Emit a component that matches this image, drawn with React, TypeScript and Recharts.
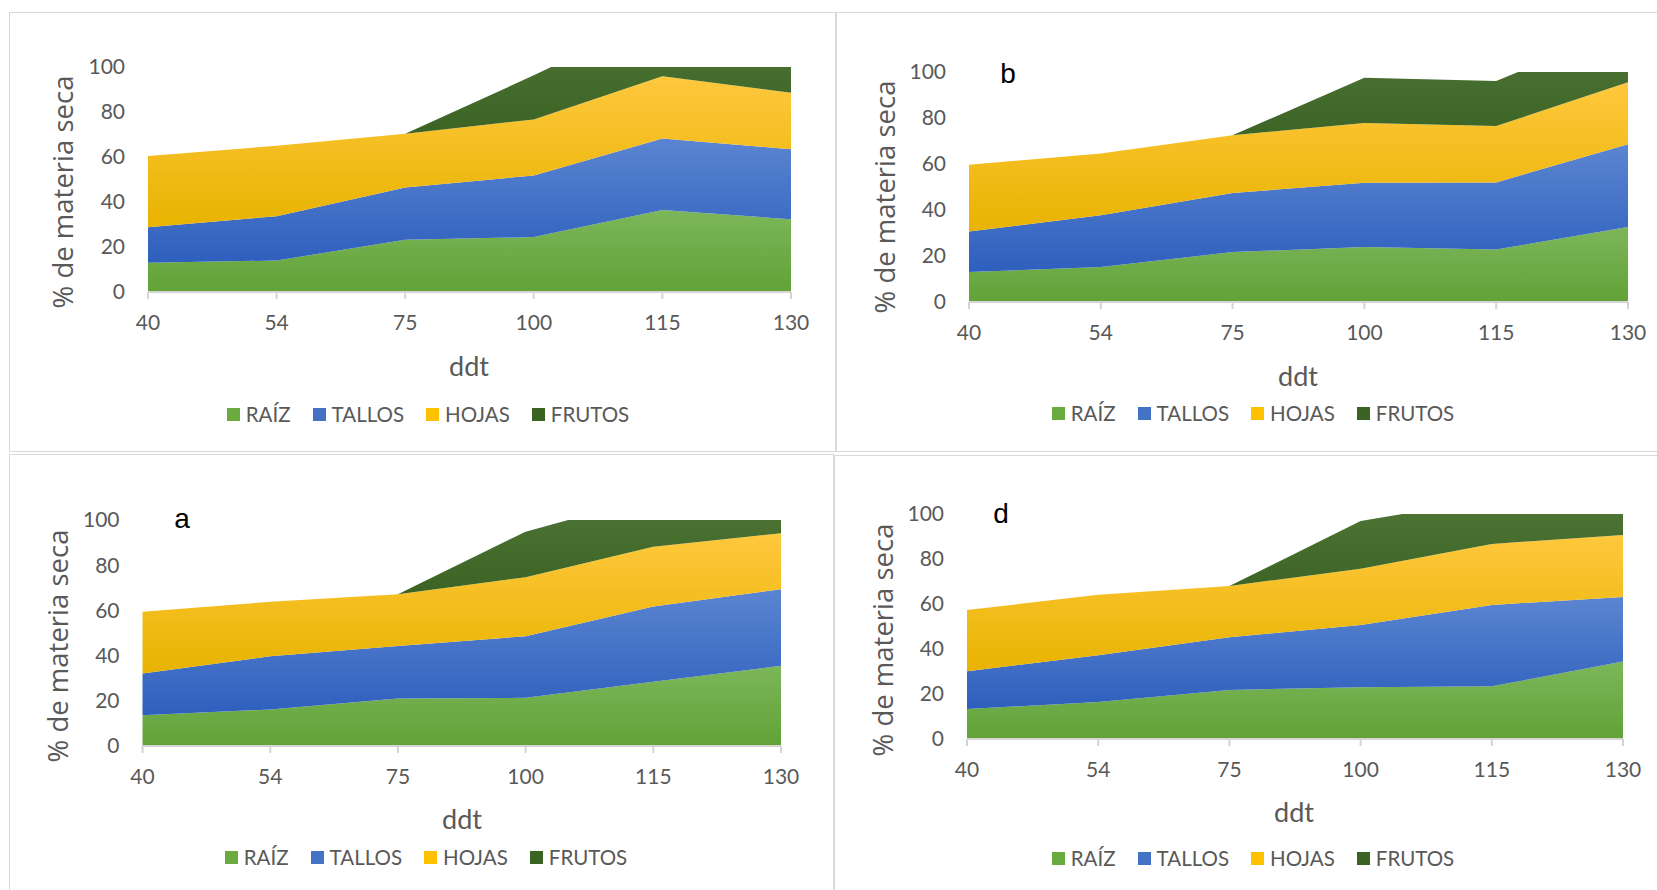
import React from 'react';
import { AreaChart, Area, XAxis, YAxis, Legend } from 'recharts';

// ---------- data ----------
const categories = ['40', '54', '75', '100', '115', '130'];
const yTicks = [0, 20, 40, 60, 80, 100];
const seriesKeys = ['raiz', 'tallos', 'hojas', 'frutos'];
const seriesNames = ['RAÍZ', 'TALLOS', 'HOJAS', 'FRUTOS'];

// top-left panel (no letter)
const raizC = [13.0, 14.0, 23.2, 24.4, 36.5, 32.3];
const tallosC = [15.8, 19.7, 23.3, 27.4, 31.7, 31.2];
const hojasC = [31.6, 31.3, 23.8, 24.9, 27.7, 25.1];
const frutosC = [0, 0, 0, 19.6, 27.7, 20.0];

// top-right panel "b"
const raizB = [13.0, 15.2, 21.7, 23.9, 22.8, 32.6];
const tallosB = [17.7, 22.5, 25.7, 28.0, 29.2, 36.0];
const hojasB = [29.0, 26.9, 25.1, 25.9, 24.5, 26.9];
const frutosB = [0, 0, 0, 19.7, 19.6, 24.2];

// bottom-left panel "a"
const raizA = [13.6, 16.2, 21.0, 21.3, 28.4, 35.5];
const tallosA = [18.5, 23.5, 23.2, 27.3, 33.3, 33.9];
const hojasA = [27.3, 24.1, 23.0, 26.1, 26.5, 24.7];
const frutosA = [0, 0, 0, 20.1, 22.2, 18.0];

// bottom-right panel "d"
const raizD = [13.3, 16.4, 21.8, 23.0, 23.4, 34.4];
const tallosD = [16.8, 20.8, 23.4, 27.7, 36.2, 28.7];
const hojasD = [27.2, 26.9, 22.8, 25.0, 27.1, 27.6];
const frutosD = [0, 0, 0, 21.2, 19.9, 15.0];

const makeRows = (r: number[], t: number[], h: number[], f: number[]) =>
  categories.map((c, i) => ({ ddt: c, raiz: r[i], tallos: t[i], hojas: h[i], frutos: f[i] }));

// ---------- styles ----------
const gradTop = ['#7cb65a', '#5b85d1', '#ffc83e', '#4f7637'];
const gradBottom = ['#62a237', '#2e5fbd', '#e8b300', '#386021'];
const legendColors = ['#6aab40', '#4472c4', '#ffc000', '#3b6324'];
const textGray = '#595959';
const axisGray = '#d4d4d4';

type Panel = {
  id: string;
  rows: any[];
  box: { left: number; top: number; w: number; h: number };
  plot: { L: number; R: number; T: number; B: number };
  yLabel: { x: number; y: number };
  xLabel: { x: number; y: number };
  legend: { cx: number; cy: number };
  letter?: { x: number; y: number; text: string };
};

const panels: Panel[] = [
  {
    id: 'c',
    rows: makeRows(raizC, tallosC, hojasC, frutosC),
    box: { left: 9, top: 12, w: 827, h: 440 },
    plot: { L: 148, R: 791, T: 67, B: 292 },
    yLabel: { x: 63, y: 192 },
    xLabel: { x: 469, y: 365 },
    legend: { cx: 428, cy: 414 },
  },
  {
    id: 'b',
    rows: makeRows(raizB, tallosB, hojasB, frutosB),
    box: { left: 836, top: 12, w: 830, h: 440 },
    plot: { L: 969, R: 1628, T: 72, B: 302 },
    yLabel: { x: 885, y: 197 },
    xLabel: { x: 1298, y: 375 },
    legend: { cx: 1253, cy: 413 },
    letter: { x: 1008, y: 74, text: 'b' },
  },
  {
    id: 'a',
    rows: makeRows(raizA, tallosA, hojasA, frutosA),
    box: { left: 9, top: 454, w: 825, h: 440 },
    plot: { L: 142.5, R: 781, T: 520, B: 746 },
    yLabel: { x: 58, y: 646 },
    xLabel: { x: 462, y: 818 },
    legend: { cx: 426, cy: 857 },
    letter: { x: 182, y: 519, text: 'a' },
  },
  {
    id: 'd',
    rows: makeRows(raizD, tallosD, hojasD, frutosD),
    box: { left: 834, top: 455, w: 830, h: 440 },
    plot: { L: 967, R: 1623, T: 514, B: 739 },
    yLabel: { x: 883, y: 640 },
    xLabel: { x: 1294, y: 811 },
    legend: { cx: 1253, cy: 858 },
    letter: { x: 1001, y: 514, text: 'd' },
  },
];

const Y_AXIS_W = 60;
const X_AXIS_H = 40;

const LegendContent = () => (
  <div
    style={{
      display: 'flex',
      justifyContent: 'center',
      alignItems: 'center',
      fontFamily: 'Lato, sans-serif',
      fontSize: 20.5,
      color: textGray,
      height: 24,
      whiteSpace: 'nowrap',
    }}
  >
    {seriesNames.map((n, i) => (
      <div key={n} style={{ display: 'flex', alignItems: 'center', marginRight: i < 3 ? 22 : 0 }}>
        <span style={{ display: 'inline-block', width: 13, height: 13, background: legendColors[i], marginRight: 6 }} />
        <span>{n}</span>
      </div>
    ))}
  </div>
);

const PanelChart = ({ p }: { p: Panel }) => {
  const { box, plot } = p;
  const margin = {
    left: plot.L - box.left - Y_AXIS_W,
    right: box.left + box.w - plot.R,
    top: plot.T - box.top,
    bottom: box.top + box.h - plot.B - X_AXIS_H,
  };
  return (
    <>
      <div
        style={{
          position: 'absolute',
          left: box.left,
          top: box.top,
          width: box.w,
          height: box.h,
          border: '1.5px solid #d9d9d9',
          boxSizing: 'border-box',
        }}
      />
      <div style={{ position: 'absolute', left: box.left, top: box.top }}>
        <AreaChart width={box.w} height={box.h} data={p.rows} margin={margin}>
          <defs>
            {seriesKeys.map((k, i) => (
              <linearGradient key={k} id={`g-${p.id}-${k}`} x1="0" y1="0" x2="0" y2="1">
                <stop offset="0%" stopColor={gradTop[i]} />
                <stop offset="100%" stopColor={gradBottom[i]} />
              </linearGradient>
            ))}
          </defs>
          <XAxis
            dataKey="ddt"
            type="category"
            interval={0}
            height={X_AXIS_H}
            axisLine={{ stroke: axisGray, strokeWidth: 2 }}
            tickLine={{ stroke: axisGray, strokeWidth: 2 }}
            tickSize={7}
            tickMargin={16}
            tick={{ fontFamily: 'Lato, sans-serif', fontSize: 21, fill: textGray }}
          />
          <YAxis
            type="number"
            domain={[0, 100]}
            ticks={yTicks}
            allowDataOverflow
            width={Y_AXIS_W}
            axisLine={false}
            tickLine={false}
            tickSize={0}
            tickMargin={23}
            tick={{ fontFamily: 'Lato, sans-serif', fontSize: 21, fill: textGray }}
          />
          {seriesKeys.map((k, i) => (
            <Area
              key={k}
              type="linear"
              dataKey={k}
              name={seriesNames[i]}
              stackId="1"
              stroke="none"
              fill={`url(#g-${p.id}-${k})`}
              fillOpacity={1}
              dot={false}
              activeDot={false}
              isAnimationActive={false}
            />
          ))}
          <Legend
            layout="horizontal"
            verticalAlign="middle"
            align="center"
            content={LegendContent}
            wrapperStyle={{
              left: p.legend.cx - box.left - 250,
              top: p.legend.cy - box.top - 12,
              width: 500,
              height: 24,
            }}
          />
        </AreaChart>
      </div>
      <div
        style={{
          position: 'absolute',
          left: p.yLabel.x,
          top: p.yLabel.y,
          transform: 'translate(-50%, -50%) rotate(-90deg)',
          fontFamily: '"Open Sans", sans-serif',
          fontSize: 27.5,
          color: textGray,
          whiteSpace: 'nowrap',
          lineHeight: 1,
        }}
      >
        % de materia seca
      </div>
      <div
        style={{
          position: 'absolute',
          left: p.xLabel.x,
          top: p.xLabel.y,
          transform: 'translate(-50%, -50%)',
          fontFamily: 'Lato, sans-serif',
          fontSize: 27,
          color: textGray,
          whiteSpace: 'nowrap',
          lineHeight: 1,
        }}
      >
        ddt
      </div>
      {p.letter && (
        <div
          style={{
            position: 'absolute',
            left: p.letter.x,
            top: p.letter.y,
            transform: 'translate(-50%, -50%)',
            fontFamily: '"Liberation Sans", Arial, sans-serif',
            fontSize: 28,
            color: '#000',
            lineHeight: 1,
          }}
        >
          {p.letter.text}
        </div>
      )}
    </>
  );
};

export default function App() {
  return (
    <div
      style={{
        position: 'absolute',
        left: 0,
        top: 0,
        width: 1657,
        height: 890,
        overflow: 'hidden',
        background: '#fff',
      }}
    >
      {panels.map((p) => (
        <PanelChart key={p.id} p={p} />
      ))}
    </div>
  );
}
